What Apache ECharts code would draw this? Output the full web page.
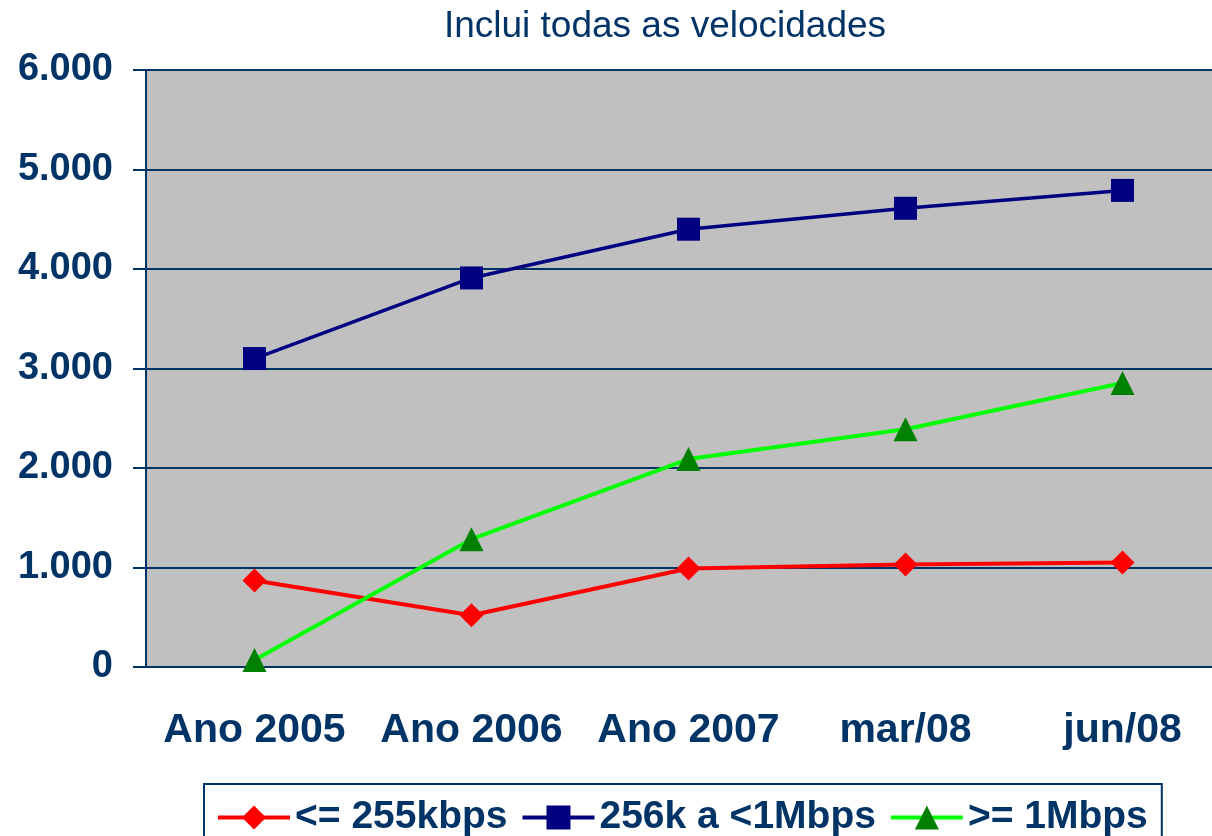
<!DOCTYPE html>
<html>
<head>
<meta charset="utf-8">
<script src="https://cdn.jsdelivr.net/npm/echarts@6/dist/echarts.min.js"></script>
<style>
  html, body { margin: 0; padding: 0; background: #fff; }
  #chart { width: 1212px; height: 836px; }
</style>
</head>
<body>
<div id="chart"></div>
<script>
// categorias do eixo x
const categories = ['Ano 2005', 'Ano 2006', 'Ano 2007', 'mar/08', 'jun/08']
// séries (milhares de acessos)
const lowSpeed = [870, 520, 990, 1030, 1050]
const midSpeed = [3100, 3910, 4400, 4610, 4790]
const highSpeed = [70, 1285, 2090, 2390, 2855]

const navy = '#003366'
const chart = echarts.init(document.getElementById('chart'))

const option = {
  animation: false,
  textStyle: { fontFamily: 'Liberation Sans, Arial, sans-serif' },
  title: {
    text: 'Inclui todas as velocidades',
    left: 660,
    textAlign: 'center',
    top: 3,
    textStyle: { color: navy, fontSize: 37, fontWeight: 'normal', fontFamily: 'Liberation Sans, Arial, sans-serif' }
  },
  legend: {
    top: 784,
    left: 204,
    padding: [14, 14, 20, 12],
    itemGap: 13,
    itemWidth: 72,
    itemHeight: 30,
    borderColor: navy,
    borderWidth: 2,
    lineStyle: { width: 4 },
    textStyle: { color: navy, fontSize: 39, fontWeight: 'bold', fontFamily: 'Liberation Sans, Arial, sans-serif' },
    data: ['<= 255kbps', '256k a <1Mbps', '>= 1Mbps']
  },
  grid: {
    left: 146,
    width: 1085,
    top: 70,
    bottom: 169,
    outerBoundsMode: 'none',
    containLabel: false,
    show: true,
    backgroundColor: '#c0c0c0',
    borderWidth: 0
  },
  xAxis: {
    type: 'category',
    data: categories,
    axisLine: { lineStyle: { color: navy, width: 2 } },
    axisTick: { length: 12, lineStyle: { color: navy, width: 2 } },
    axisLabel: { interval: 0, color: navy, fontSize: 41, fontWeight: 'bold', margin: 43 }
  },
  yAxis: {
    type: 'value',
    min: 0,
    max: 6000,
    interval: 1000,
    axisLine: { show: true, lineStyle: { color: navy, width: 2 } },
    axisTick: { show: true, length: 13, lineStyle: { color: navy, width: 2 } },
    axisLabel: {
      color: navy, fontSize: 38, fontWeight: 'bold', margin: 33,
      formatter: v => v === 0 ? '0' : (v / 1000) + '.000'
    },
    splitLine: { lineStyle: { color: navy, width: 2 } }
  },
  series: [
    {
      name: '<= 255kbps',
      type: 'line',
      data: lowSpeed,
      symbol: 'diamond',
      symbolSize: 24,
      lineStyle: { color: '#ff0000', width: 4 },
      itemStyle: { color: '#ff0000' }
    },
    {
      name: '256k a <1Mbps',
      type: 'line',
      data: midSpeed,
      symbol: 'rect',
      symbolSize: 23,
      lineStyle: { color: '#000080', width: 3.5 },
      itemStyle: { color: '#000080' }
    },
    {
      name: '>= 1Mbps',
      type: 'line',
      data: highSpeed,
      symbol: 'triangle',
      symbolSize: 24,
      lineStyle: { color: '#00ff00', width: 4 },
      itemStyle: { color: '#008000' }
    }
  ]
}

chart.setOption(option)
</script>
</body>
</html>
